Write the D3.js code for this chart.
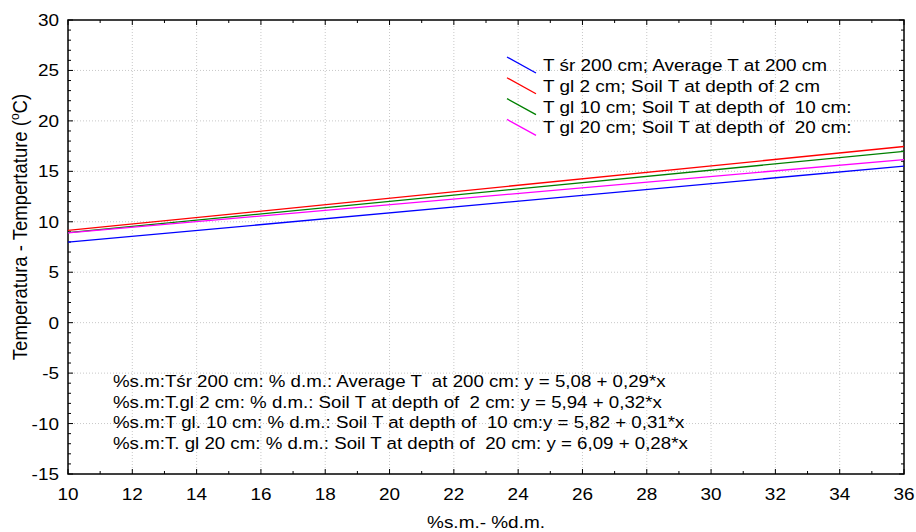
<!DOCTYPE html>
<html>
<head>
<meta charset="utf-8">
<script src="https://cdn.jsdelivr.net/npm/d3@7"></script>
<style>
  body { margin: 0; background: #fff; }
  svg text { font-family: Arial, "Liberation Sans", sans-serif; fill: #000; }
</style>
</head>
<body>
<div class="vis-linechart"></div>
<script>
// x range of the fitted lines
const xValues = [10, 36];
// fitted values at x = 10 and x = 36
const tSr200 = [7.98, 15.52];
const tGl2 = [9.14, 17.46];
const tGl10 = [8.92, 16.98];
const tGl20 = [8.89, 16.17];

const seriesNames = [
    'T śr 200 cm; Average T at 200 cm',
    'T gl 2 cm; Soil T at depth of 2 cm',
    'T gl 10 cm; Soil T at depth of  10 cm:',
    'T gl 20 cm; Soil T at depth of  20 cm:'
];
const seriesColors = ['#0000ff', '#ff0000', '#008000', '#ff00ff'];
const equations = [
    '%s.m:Tśr 200 cm: % d.m.: Average T  at 200 cm: y = 5,08 + 0,29*x',
    '%s.m:T.gl 2 cm: % d.m.: Soil T at depth of  2 cm: y = 5,94 + 0,32*x',
    '%s.m:T gl. 10 cm: % d.m.: Soil T at depth of  10 cm:y = 5,82 + 0,31*x',
    '%s.m:T. gl 20 cm: % d.m.: Soil T at depth of  20 cm: y = 6,09 + 0,28*x'
];
const xTicks = [10, 12, 14, 16, 18, 20, 22, 24, 26, 28, 30, 32, 34, 36];
const yTicks = [-15, -10, -5, 0, 5, 10, 15, 20, 25, 30];

const seriesValues = [tSr200, tGl2, tGl10, tGl20];

const W = 916, H = 532;
const margin = {top: 20, right: 12, bottom: 58, left: 68};
const width = W - margin.left - margin.right;
const height = H - margin.top - margin.bottom;
// the original text is a bit wider than its height suggests
const stretch = 1.115;
const place = (px, py, s) => 'translate(' + px + ',' + py + ') scale(' + (s || stretch) + ',1)';

const svg = d3.select('.vis-linechart').append('svg')
    .attr('width', W)
    .attr('height', H);
const g = svg.append('g')
    .attr('transform', 'translate(' + margin.left + ',' + margin.top + ')');

const x = d3.scaleLinear().domain([10, 36]).range([0, width]);
const y = d3.scaleLinear().domain([-15, 30]).range([height, 0]);

// grid
g.append('g').selectAll('line')
    .data(xTicks.slice(1, -1))
    .enter().append('line')
    .attr('x1', d => x(d)).attr('x2', d => x(d))
    .attr('y1', 0).attr('y2', height)
    .attr('stroke', '#c8c8c8')
    .attr('stroke-width', 1)
    .attr('stroke-dasharray', '1,2');
g.append('g').selectAll('line')
    .data(yTicks.slice(1, -1))
    .enter().append('line')
    .attr('x1', 0).attr('x2', width)
    .attr('y1', d => y(d)).attr('y2', d => y(d))
    .attr('stroke', '#c8c8c8')
    .attr('stroke-width', 1)
    .attr('stroke-dasharray', '1,2');

// minor ticks (every 1 unit), inward on all four sides
const xMinor = d3.range(10, 37, 1);
const yMinor = d3.range(-15, 31, 1);
const ticks = g.append('g').attr('stroke', '#000').attr('stroke-width', 1);
xMinor.forEach(v => {
    const len = (v % 2 === 0) ? 5 : 3;
    ticks.append('line').attr('x1', x(v)).attr('x2', x(v)).attr('y1', height).attr('y2', height - len);
    ticks.append('line').attr('x1', x(v)).attr('x2', x(v)).attr('y1', 0).attr('y2', len);
});
yMinor.forEach(v => {
    const len = (v % 5 === 0) ? 5 : 3;
    ticks.append('line').attr('x1', 0).attr('x2', len).attr('y1', y(v)).attr('y2', y(v));
    ticks.append('line').attr('x1', width).attr('x2', width - len).attr('y1', y(v)).attr('y2', y(v));
});

// frame
g.append('rect')
    .attr('width', width).attr('height', height)
    .attr('fill', 'none')
    .attr('stroke', '#000')
    .attr('stroke-width', 1.5);

// tick labels
g.append('g').selectAll('text')
    .data(xTicks)
    .enter().append('text')
    .attr('transform', d => place(x(d), height + 26))
    .attr('text-anchor', 'middle')
    .style('font-size', '17px')
    .text(d => d);
g.append('g').selectAll('text')
    .data(yTicks)
    .enter().append('text')
    .attr('transform', d => place(-9, y(d) + 6))
    .attr('text-anchor', 'end')
    .style('font-size', '17px')
    .text(d => d);

// axis titles
svg.append('text')
    .attr('transform', place(margin.left + width / 2, 528))
    .attr('text-anchor', 'middle')
    .style('font-size', '17px')
    .text('%s.m.- %d.m.');
const yTitle = svg.append('text')
    .attr('transform', 'translate(27,227) rotate(-90) scale(1,' + stretch + ')')
    .attr('text-anchor', 'middle')
    .style('font-size', '18.5px');
yTitle.append('tspan').text('Temperatura - Tempertature (');
yTitle.append('tspan').attr('dy', -7).style('font-size', '12px').text('o');
yTitle.append('tspan').attr('dy', 7).text('C)');

// fitted lines
const line = d3.line()
    .x((d, i) => x(xValues[i]))
    .y(d => y(d));
g.append('g').selectAll('path')
    .data(seriesValues)
    .enter().append('path')
    .attr('fill', 'none')
    .attr('stroke', (d, i) => seriesColors[i])
    .attr('stroke-width', 1.3)
    .attr('d', line);

// legend
const legendG = svg.selectAll('.legend')
    .data(seriesNames)
    .enter().append('g')
    .attr('class', 'legend')
    .attr('transform', (d, i) => 'translate(507,' + (57 + i * 20.8) + ')');
legendG.append('line')
    .attr('x1', 0).attr('y1', 0)
    .attr('x2', 29).attr('y2', 16)
    .attr('stroke', (d, i) => seriesColors[i])
    .attr('stroke-width', 1.3);
legendG.append('text')
    .attr('transform', place(36, 14))
    .style('font-size', '17px')
    .style('white-space', 'pre')
    .attr('xml:space', 'preserve')
    .text(d => d);

// regression equations
svg.append('g').selectAll('text')
    .data(equations)
    .enter().append('text')
    .attr('transform', (d, i) => place(113, 387 + i * 20.7, 1.1))
    .style('font-size', '17px')
    .style('white-space', 'pre')
    .attr('xml:space', 'preserve')
    .text(d => d);
</script>
</body>
</html>
